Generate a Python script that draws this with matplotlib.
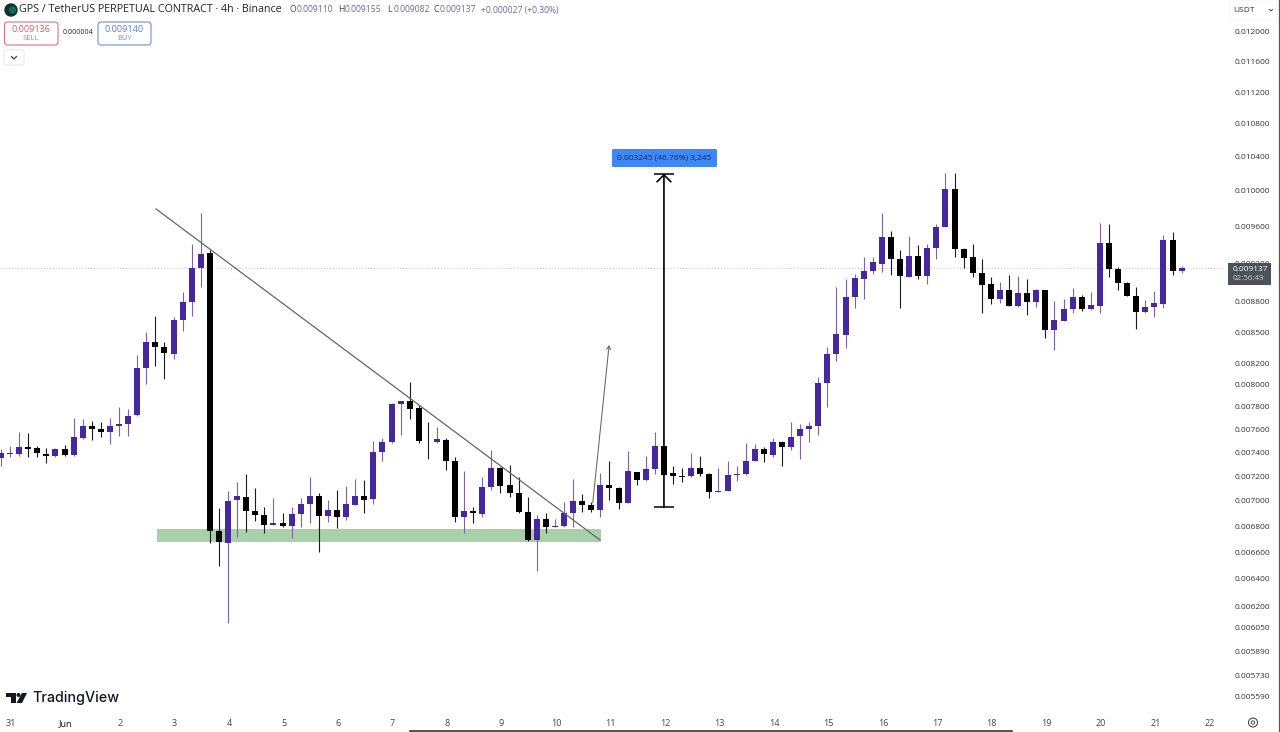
import numpy as np
import matplotlib
matplotlib.use("Agg")
import matplotlib.pyplot as plt
from matplotlib.patches import Rectangle, FancyBboxPatch, Circle, Polygon
from matplotlib.transforms import ScaledTranslation

plt.rcParams['font.family'] = ['Open Sans', 'DejaVu Sans']

# 4h candles, prices in millionths of USDT
opens = [7343,7379,7377,7442,7428,7382,7363,7419,7368,7519,7624,7595,7571,7621,7638,7718,8143,8390,8345,8282,8612,8792,9135,9301,
         6754,6664,6997,7021,6909,6880,6801,6819,6791,6890,6970,7029,6872,6919,6861,6962,7032,7007,7399,7482,7813,7843,7777,7493,
         7482,7502,7323,6867,6914,6888,7105,7259,7118,7053,6906,6685,6848,6786,6793,6896,6994,6962,6919,7124,7094,6978,7231,7162,
         7251,7450,7217,7195,7192,7264,7212,7067,7072,7201,7209,7320,7425,7368,7479,7442,7531,7595,7618,8004,8278,8464,8839,9024,
         9107,9184,9470,9233,9048,9269,9055,9355,9583,10003,9344,9258,9086,8969,8819,8910,8748,8883,8785,8907,8510,8602,8718,8839,
         8714,8751,9401,9131,8986,8852,8691,8735,8768,9434,9110]
highs = [7419,7448,7568,7557,7450,7428,7428,7456,7688,7682,7665,7659,7688,7792,7768,8269,8494,8651,8397,8641,8886,9394,9731,9330,
         6933,7075,7148,7212,7094,6941,7018,6893,6941,7018,7184,7053,6999,7080,7116,7170,7162,7493,7514,7828,7846,8019,7807,7659,
         7609,7514,7351,7237,6941,7184,7413,7267,7284,7190,7026,6880,6893,6848,6986,7168,7048,6986,7223,7320,7108,7408,7231,7363,
         7566,7450,7278,7259,7385,7365,7223,7259,7320,7278,7476,7462,7436,7519,7491,7659,7635,7653,8065,8348,8944,9024,9076,9258,
         9258,9731,9535,9330,9484,9380,9394,9609,10189,10189,9355,9394,9230,9041,8989,9065,9055,9024,8921,8907,8798,8815,8927,8859,
         8886,9620,9613,9152,8996,8944,8808,8900,9492,9525,9155]
lows = [7278,7351,7363,7357,7351,7301,7357,7363,7363,7505,7499,7522,7465,7534,7537,7709,7998,8168,8044,8231,8500,8648,8938,6659,
        6488,6074,6711,6749,6832,6741,6801,6783,6703,6783,6819,6596,6827,6780,6840,6959,6898,6967,7320,7476,7542,7682,7470,7337,
        7470,7245,6827,6736,6819,6867,7080,7053,7021,6893,6680,6453,6741,6783,6783,6783,6901,6901,6867,6999,6925,6973,7121,7157,
        7209,7203,7129,7143,7190,7195,7018,7067,7069,7157,7203,7320,7309,7351,7281,7413,7337,7485,7542,7792,8215,8339,8731,8819,
        9076,9100,9065,8731,9041,9020,8969,9233,9583,9258,9135,9041,8681,8765,8775,8748,8741,8658,8741,8435,8316,8602,8681,8701,
        8708,8674,9041,8910,8849,8516,8674,8641,8731,9065,9082]
closes = [7385,7385,7442,7422,7385,7365,7419,7371,7528,7624,7595,7571,7618,7638,7712,8146,8390,8345,8291,8605,8788,9142,9287,6757,
          6672,6991,7029,6911,6877,6801,6819,6791,6890,6970,7029,6872,6919,6861,6965,7032,7002,7399,7485,7813,7840,7774,7491,7488,
          7505,7323,6867,6914,6896,7108,7259,7110,7053,6901,6685,6848,6783,6793,6898,6994,6959,6919,7118,7094,6973,7237,7165,7253,
          7445,7203,7192,7190,7264,7215,7067,7072,7201,7212,7323,7425,7377,7479,7442,7528,7592,7621,8007,8278,8468,8839,9034,9107,
          9198,9470,9233,9055,9269,9051,9355,9583,10003,9337,9248,9083,8965,8819,8910,8748,8883,8785,8907,8510,8605,8718,8839,8714,
          8755,9401,9128,8979,8849,8691,8738,8781,9434,9107,9137]

price_ticks = [0.012, 0.0116, 0.0112, 0.0108, 0.0104, 0.01, 0.0096, 0.0092, 0.0088, 0.0085, 0.0082,
               0.008, 0.0078, 0.0076, 0.0074, 0.0072, 0.007, 0.0068, 0.0066, 0.0064, 0.0062,
               0.00605, 0.00589, 0.00573, 0.00559]
day_labels = ['31', 'Jun', '2', '3', '4', '5', '6', '7', '8', '9', '10', '11', '12',
              '13', '14', '15', '16', '17', '18', '19', '20', '21', '22']
day_ticks = np.arange(len(day_labels)) * 6 + 1

# support zone, trend line, breakout arrow and the measured move
zone_bars = [17.18, 66.08]
zone_prices = [0.006670, 0.006771]
trend_bars = [17.07, 65.96]
trend_prices = [0.009780, 0.006685]
arrow_bars = [65.16, 66.96]
arrow_prices = [0.006976, 0.008364]
measure_bar = 73
measure_from = 0.006940
measure_delta = 0.003245

PURPLE = '#4527a0'
BLACK = '#000000'

o = np.array(opens) * 1e-6
h = np.array(highs) * 1e-6
l = np.array(lows) * 1e-6
c = np.array(closes) * 1e-6
x = np.arange(len(o))
up = c >= o
colors = [PURPLE if u else BLACK for u in up]
wick_colors = ['#7763bb' if u else '#1c1c1c' for u in up]

fig = plt.figure(figsize=(12.8, 7.32), dpi=100, facecolor='white')
ax = fig.add_axes([0, 20 / 732, 1228 / 1280, 712 / 732])
ax.set_yscale('log')
ax.set_xlim(-0.11, 135.11)
ax.set_ylim(0.005486, 0.012435)

ax.add_patch(Rectangle((zone_bars[0], zone_prices[0]), zone_bars[1] - zone_bars[0],
                       zone_prices[1] - zone_prices[0], color='#a9d1a9', lw=0, zorder=1))
ax.axhline(c[-1], color='#c4c4c4', ls=(0, (1, 2)), lw=0.7, zorder=1)

# candles
ax.vlines(x, l, h, colors=wick_colors, lw=0.8, zorder=2)
ax.bar(x, np.abs(c - o), bottom=np.minimum(o, c), width=0.66, color=colors, lw=0, zorder=3)

ax.plot(trend_bars, trend_prices, color='#666666', lw=0.9, zorder=4)
ax.annotate('', xy=(arrow_bars[1], arrow_prices[1]), xytext=(arrow_bars[0], arrow_prices[0]),
            arrowprops=dict(arrowstyle='->,head_length=0.25,head_width=0.15', color='#666666', lw=0.75,
                            shrinkA=0, shrinkB=0), zorder=4)

measure_to = measure_from + measure_delta
ax.annotate('', xy=(measure_bar, measure_to), xytext=(measure_bar, measure_from),
            arrowprops=dict(arrowstyle='->,head_length=0.5,head_width=0.5', color='black', lw=1.2,
                            shrinkA=0, shrinkB=0), zorder=5)
ax.hlines([measure_from, measure_to], measure_bar - 1.1, measure_bar + 1.1, color='black', lw=1.1, zorder=5)

for side in ax.spines.values():
    side.set_visible(False)
ax.set_yticks(price_ticks, [f'{p:.6f}' for p in price_ticks])
ax.minorticks_off()
ax.yaxis.tick_right()
ax.tick_params(axis='y', length=0, pad=4.5, labelsize=6, labelcolor='#333333')
ax.set_xticks(day_ticks, day_labels)
ax.tick_params(axis='x', length=0, pad=5, labelsize=6.5, labelcolor='#444444')
for lbl in ax.get_xticklabels():
    if lbl.get_text() == 'Jun':
        lbl.set_color('#111111')

# nudge the axis labels by one pixel
down = ScaledTranslation(0, -1 / 100, fig.dpi_scale_trans)
right = ScaledTranslation(1 / 100, 0, fig.dpi_scale_trans)
for tick in ax.yaxis.get_major_ticks():
    tick.label2.set_transform(tick.label2.get_transform() + down)
for tick in ax.xaxis.get_major_ticks():
    tick.label1.set_transform(tick.label1.get_transform() + right)

# overlay in pixel units for the chart's header and widgets
ui = fig.add_axes([0, 0, 1, 1], facecolor='none')
ui.set_xlim(0, 1280)
ui.set_ylim(732, 0)
ui.axis('off')

ui.add_patch(Circle((11, 10), 6, color='#10302b'))
ui.add_patch(Circle((12.5, 10), 3, color='#0f6b5a'))
ui.text(19, 10, 'GPS / TetherUS PERPETUAL CONTRACT · 4h · Binance', fontsize=7.75, color='#222222', va='center')
ohlc_parts = [(290, 'O', '0.009110'), (338, 'H', '0.009155'), (387, 'L', '0.009082'), (433, 'C', '0.009137')]
for px, name, val in ohlc_parts:
    ui.text(px, 10, name, fontsize=6.2, color='#444444', va='center')
    ui.text(px + 7, 10, val, fontsize=6.2, color='#6f6a9a', va='center')
ui.text(481, 10, '+0.000027 (+0.30%)', fontsize=6.2, color='#6f6a9a', va='center')

ui.add_patch(FancyBboxPatch((4.5, 22), 53.5, 23, boxstyle='round,pad=0,rounding_size=3', fc='white', ec='#e2707c', lw=0.8))
ui.text(31, 29, '0.009136', fontsize=6.5, color='#d9596a', ha='center', va='center')
ui.text(31, 38.5, 'SELL', fontsize=5.5, color='#e2707c', ha='center', va='center')
ui.text(78, 33, '0.000004', fontsize=5, color='#222222', ha='center', va='center')
ui.add_patch(FancyBboxPatch((98, 22), 53, 23, boxstyle='round,pad=0,rounding_size=3', fc='white', ec='#6f8fe0', lw=0.8))
ui.text(124.5, 29, '0.009140', fontsize=6.5, color='#5a78d8', ha='center', va='center')
ui.text(124.5, 38.5, 'BUY', fontsize=5.5, color='#6f8fe0', ha='center', va='center')
ui.add_patch(FancyBboxPatch((4, 50), 20, 15, boxstyle='round,pad=0,rounding_size=2', fc='white', ec='#e6e6e6', lw=0.7))
ui.plot([11.5, 14, 16.5], [56.5, 59, 56.5], color='#444444', lw=0.9)

# measured move label
ui.add_patch(FancyBboxPatch((612, 149), 105, 18, boxstyle='round,pad=0,rounding_size=1.5', fc='#3f87f2', ec='none'))
ui.text(664.5, 158, f'{measure_delta:.6f} ({measure_delta / measure_from * 100:.2f}%) 3,245',
        fontsize=6, color='#10306a', ha='center', va='center')

# price axis widgets
ui.add_patch(FancyBboxPatch((1230, 0), 47, 20, boxstyle='round,pad=0,rounding_size=2', fc='white', ec='#f5f5f5', lw=0.6))
ui.text(1233, 10, 'USDT', fontsize=6, color='#333333', va='center')
ui.plot([1269.5, 1271, 1272.5], [9.5, 11, 9.5], color='#444444', lw=0.7)
ui.add_patch(Rectangle((1228, 263), 43, 22, color='#4c5259', lw=0))
ui.text(1233, 269.5, f'{c[-1]:.6f}', fontsize=6, color='white', va='center')
ui.text(1233, 279, '02:56:49', fontsize=5.8, color='#c9ccd0', va='center')
ui.plot([1279, 1279], [0, 732], color='#555555', lw=0.9)
ui.plot([410, 1012], [731, 731], color='#333333', lw=1.2)

# settings button
ui.add_patch(Circle((1253, 722.5), 4.5, fc='none', ec='#333333', lw=0.7))
ui.add_patch(Circle((1253, 722.5), 1.7, fc='none', ec='#333333', lw=0.6))

# TradingView wordmark
ui.add_patch(Polygon([(6, 693), (16, 693), (16, 703), (11, 703), (11, 697), (6, 697)], color='#131722', lw=0))
ui.add_patch(Circle((18.5, 695), 2, color='#131722', lw=0))
ui.add_patch(Polygon([(22, 693), (27, 693), (22, 703), (16.5, 703)], color='#131722', lw=0))
ui.text(32, 698, 'TradingView', fontsize=10.3, fontweight='medium', color='#131722', va='center', family='Inter')

fig.savefig('out.png', dpi=100)
